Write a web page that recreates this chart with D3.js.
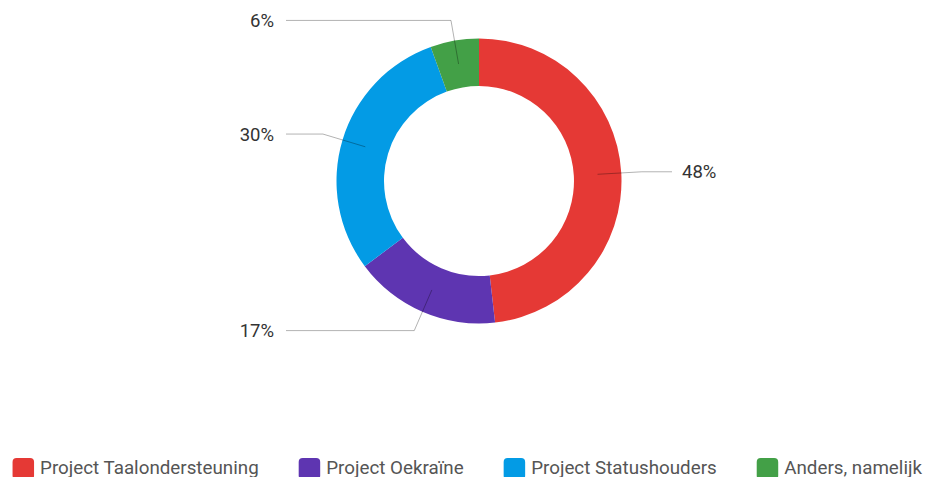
<!DOCTYPE html>
<html>
<head>
<meta charset="utf-8">
<script src="https://cdn.jsdelivr.net/npm/d3@7/dist/d3.min.js"></script>
<style>
  body { margin: 0; background: #fff; }
  svg { display: block; font-family: Roboto, "Open Sans", sans-serif; }
</style>
</head>
<body>
<div id="chart"></div>
<script>
// data (share of answers, in %)
var categories = ["Project Taalondersteuning", "Project Oekraïne", "Project Statushouders", "Anders, namelijk"];
var shares = [48.2, 16.6, 29.7, 5.5];
var colors = ["#e53935", "#5e35b1", "#039be5", "#43a047"];

var width = 927, height = 477;
var cx = 479, cy = 181;
var outerR = 142.5, innerR = 95;

var svg = d3.select("#chart").append("svg")
    .attr("width", width)
    .attr("height", height);

var data = categories.map(function (c, i) { return { name: c, value: shares[i], color: colors[i] }; });

var pie = d3.pie().sort(null).value(function (d) { return d.value; });
var arc = d3.arc().innerRadius(innerR).outerRadius(outerR);
var arcs = pie(data);

var g = svg.append("g").attr("transform", "translate(" + cx + "," + cy + ")");

g.selectAll("path.slice")
    .data(arcs)
    .enter()
    .append("path")
    .attr("class", "slice")
    .attr("d", arc)
    .attr("fill", function (d) { return d.data.color; });

// leader lines: radial piece from the middle of the ring, then horizontal
var midR = (innerR + outerR) / 2, elbowR = 163, lineEnd = 193;
function pt(a, r) { return [Math.sin(a) * r, -Math.cos(a) * r]; }
function mid(d) { return (d.startAngle + d.endAngle) / 2; }

g.selectAll("polyline.leader")
    .data(arcs)
    .enter()
    .append("polyline")
    .attr("class", "leader")
    .attr("fill", "none")
    .attr("stroke", "rgba(0,0,0,0.3)")
    .attr("stroke-width", 1)
    .attr("points", function (d) {
        var a = mid(d);
        var p0 = pt(a, midR), p1 = pt(a, elbowR);
        var side = Math.sin(a) >= 0 ? 1 : -1;
        return [p0, p1, [side * lineEnd, p1[1]]].map(function (p) { return p.join(","); }).join(" ");
    });

g.selectAll("text.lbl")
    .data(arcs)
    .enter()
    .append("text")
    .attr("class", "lbl")
    .attr("x", function (d) { return Math.sin(mid(d)) >= 0 ? lineEnd + 10 : -lineEnd - 12; })
    .attr("y", function (d) { return pt(mid(d), elbowR)[1]; })
    .attr("dy", "0.36em")
    .attr("text-anchor", function (d) { return Math.sin(mid(d)) >= 0 ? "start" : "end"; })
    .attr("font-size", 18.5)
    .attr("fill", "#333")
    .text(function (d) { return Math.round(d.data.value) + "%"; });

// legend, laid out in one row
var legend = svg.append("g");
var items = legend.selectAll("g.item")
    .data(data)
    .enter()
    .append("g")
    .attr("class", "item");

items.append("rect")
    .attr("width", 21.5)
    .attr("height", 21.5)
    .attr("rx", 4)
    .attr("y", -16)
    .attr("fill", function (d) { return d.color; });

items.append("text")
    .attr("x", 27.5)
    .attr("font-size", 18.8)
    .attr("fill", "#555")
    .text(function (d) { return d.name; });

var xPos = 0;
items.each(function () {
    var w = this.getBBox().width;
    d3.select(this).attr("transform", "translate(" + xPos + ",0)");
    xPos += w + 40;
});
var total = xPos - 40;
legend.attr("transform", "translate(" + ((width - total) / 2 + 4) + ",474)");
</script>
</body>
</html>
